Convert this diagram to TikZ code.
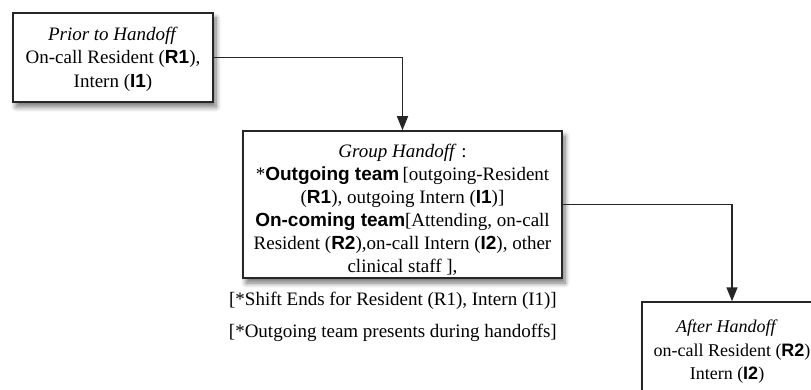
\documentclass[tikz,border=0pt]{standalone}
\usepackage{fontspec}
\setmainfont{Liberation Serif}
\newfontfamily\bsf{Liberation Sans}
\usetikzlibrary{arrows.meta,shadows.blur}
\newcommand{\bs}[1]{{\bsf\bfseries #1}}
\newcommand{\topstrut}[1]{\rule{0pt}{#1}}
\newcommand{\lsh}{\hspace*{10pt}}
\begin{document}
\begin{tikzpicture}[x=1pt,y=-1pt,
  box/.style={draw=black!85, line width=1.5pt, fill=white, align=center,
    inner sep=0pt, font=\fontsize{19}{23.5}\selectfont,
    blur shadow={shadow xshift=3pt, shadow yshift=-5pt, shadow blur steps=8, shadow blur radius=5pt, shadow opacity=55}},
  conn/.style={draw=black!85, line width=1.5pt, -{Triangle[length=14pt,width=11pt]}},
  note/.style={font=\fontsize{19}{23}\selectfont, anchor=base east, inner sep=0pt}]
\useasboundingbox (0,0) rectangle (811,390);
\node[box, minimum width=200pt, minimum height=89pt] (b1) at (113,57.5)
  {\topstrut{16.5pt}\textit{Prior to Handoff}\\On-call Resident (\bs{R1}),\\Intern (\bs{I1})};
\node[box, minimum width=319pt, minimum height=147pt, font=\fontsize{19}{23}\selectfont] (b2) at (402.5,204.5)
  {\topstrut{24.5pt}\textit{Group Handoff} :\\*\bs{Outgoing team}\,[outgoing-Resident\\(\bs{R1}), outgoing Intern (\bs{I1})]\\\bs{On-coming team}[Attending, on-call\\Resident (\bs{R2}),on-call Intern (\bs{I2}), other\\clinical staff ],};
\node[box, minimum width=180pt, minimum height=99.5pt, font=\fontsize{18}{23.5}\selectfont] (b3) at (732,351.75)
  {\textit{After Handoff}\lsh\\on-call Resident (\bs{R2})\lsh\\Intern (\bs{I2})\lsh};
\node[note] (n1) at (557,305) {[*Shift Ends for Resident (R1), Intern (I1)]};
\node[note] (n2) at (557,337) {[*Outgoing team presents during handoffs]};
\draw[conn] (b1.east) -| (b2.north);
\draw[conn] (b2.east) -| (b3.north);
\end{tikzpicture}
\end{document}
